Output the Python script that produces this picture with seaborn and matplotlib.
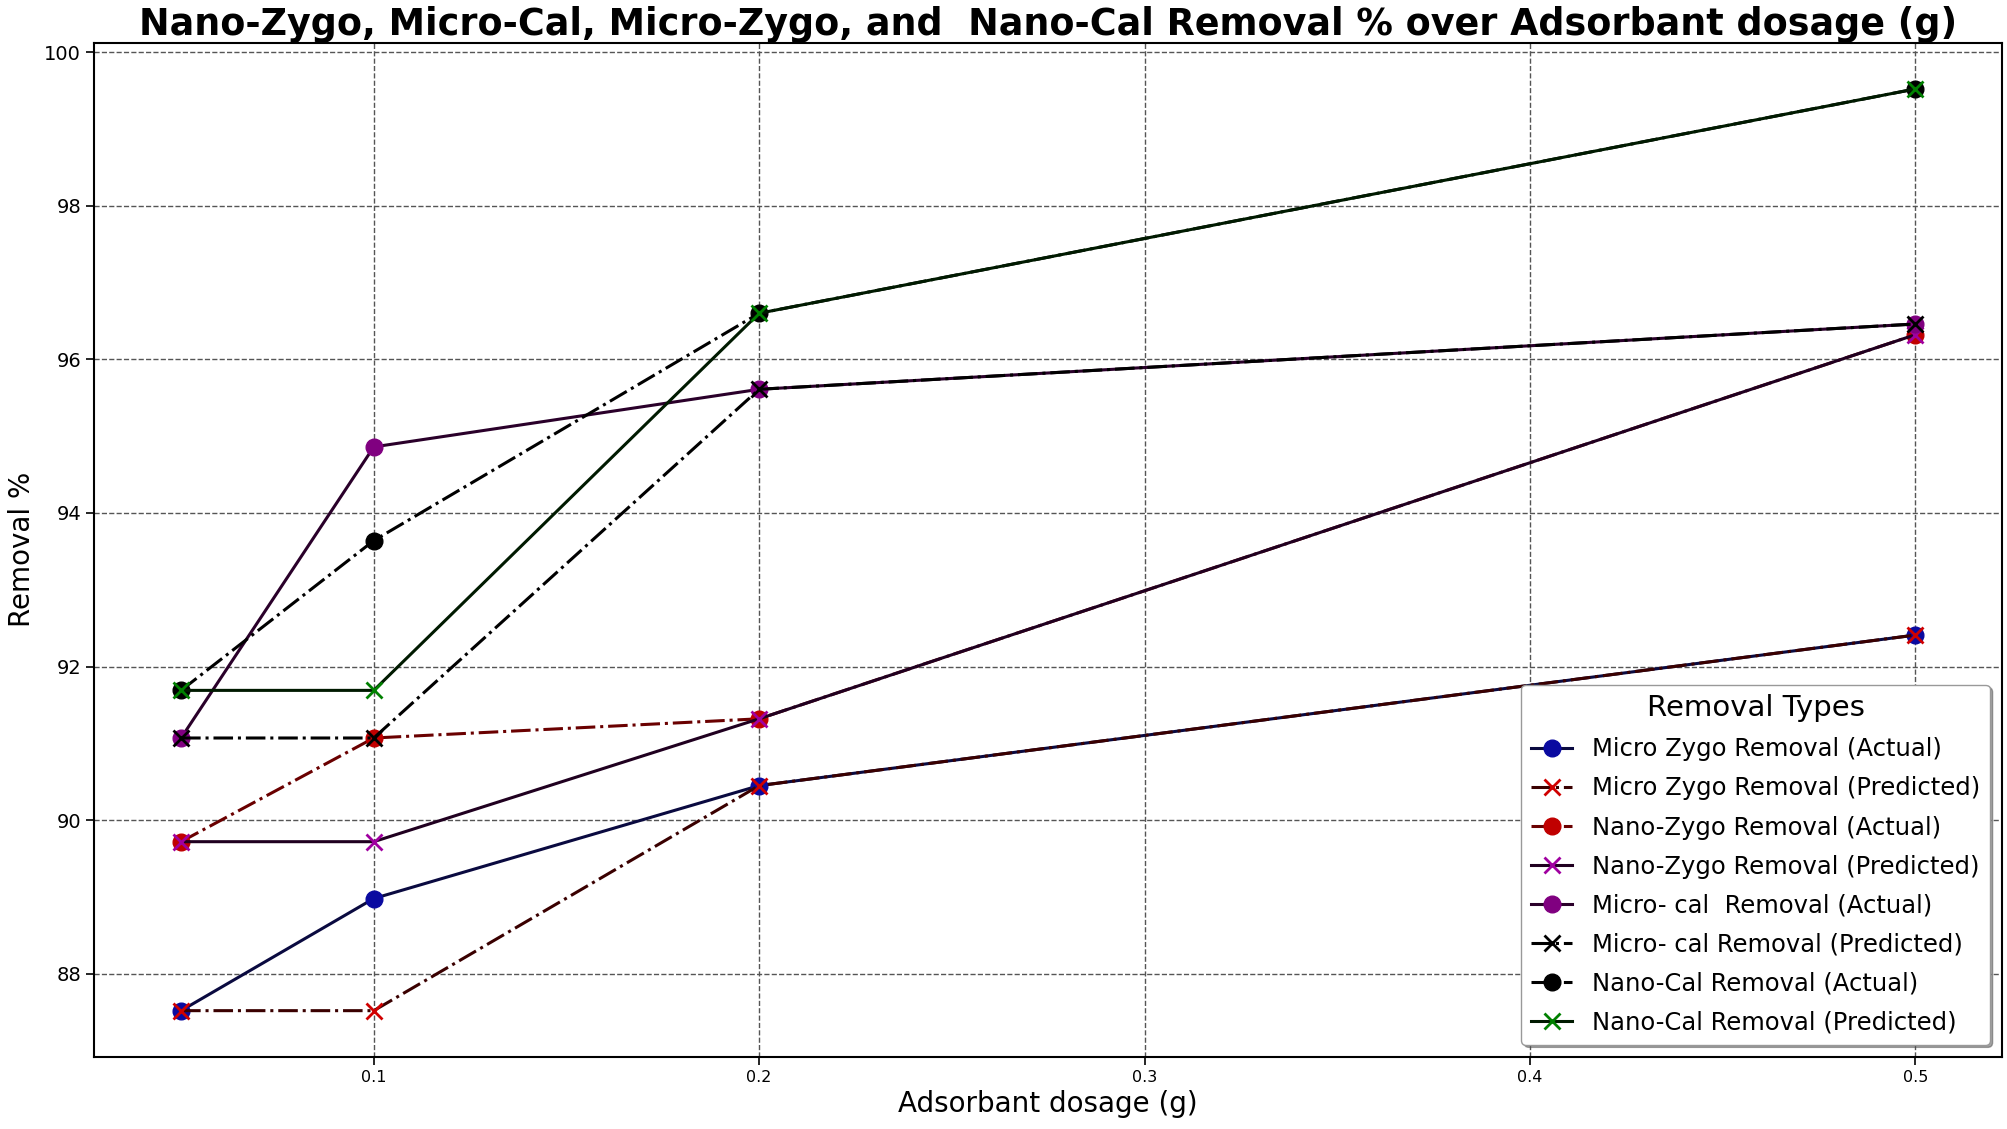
import matplotlib
matplotlib.use('Agg')
import matplotlib.pyplot as plt
import seaborn as sns

# adsorbent dosage (g)
dosage = [0.05, 0.1, 0.2, 0.5]

# removal % for each material
micro_zygo_actual = [87.52, 88.98, 90.45, 92.41]
micro_zygo_pred = [87.52, 87.52, 90.45, 92.41]
nano_zygo_actual = [89.72, 91.07, 91.32, 96.32]
nano_zygo_pred = [89.72, 89.72, 91.32, 96.32]
micro_cal_actual = [91.07, 94.86, 95.61, 96.46]
micro_cal_pred = [91.07, 91.07, 95.61, 96.46]
nano_cal_actual = [91.69, 93.64, 96.60, 99.52]
nano_cal_pred = [91.69, 91.69, 96.60, 99.52]

labels = ['Micro Zygo Removal (Actual)', 'Micro Zygo Removal (Predicted)',
          'Nano-Zygo Removal (Actual)', 'Nano-Zygo Removal (Predicted)',
          'Micro- cal  Removal (Actual)', 'Micro- cal Removal (Predicted)',
          'Nano-Cal Removal (Actual)', 'Nano-Cal Removal (Predicted)']

series = [micro_zygo_actual, micro_zygo_pred, nano_zygo_actual, nano_zygo_pred,
          micro_cal_actual, micro_cal_pred, nano_cal_actual, nano_cal_pred]

# style for each line: marker, line colour, marker colour, linestyle
styles = [('o', '#0a0a40', '#0a0aa0', '-'),
          ('x', '#3a0000', '#d00000', '-.'),
          ('o', '#6a0000', '#c00000', '-.'),
          ('x', '#200020', '#a000a0', '-'),
          ('o', '#2a002a', '#800080', '-'),
          ('x', 'black', 'black', '-.'),
          ('o', 'black', 'black', '-.'),
          ('x', '#001a00', '#008000', '-')]

fig, ax = plt.subplots(figsize=(20.08, 11.29), dpi=100)

for y, lab, (m, lc, mc, ls) in zip(series, labels, styles):
    sns.lineplot(x=dosage, y=y, ax=ax, label=lab, marker=m, color=lc,
                 linestyle=ls, linewidth=2.2, markersize=12,
                 markerfacecolor=mc, markeredgecolor=mc,
                 markeredgewidth=2 if m == 'x' else 1)

ax.set_title('Nano-Zygo, Micro-Cal, Micro-Zygo, and  Nano-Cal Removal % over Adsorbant dosage (g)',
             fontsize=26.3, fontweight='bold', pad=4)
ax.set_xlabel('Adsorbant dosage (g)', fontsize=20)
ax.set_ylabel('Removal %', fontsize=20, labelpad=6)
ax.tick_params(axis='both', width=1.2, length=6)
ax.tick_params(axis='y', labelsize=14)
ax.tick_params(axis='x', labelsize=11.5)
for s in ax.spines.values():
    s.set_linewidth(1.5)
ax.grid(True, linestyle='--', color='#555555', linewidth=1)

leg = ax.legend(title='Removal Types', fontsize=17.5, title_fontsize=21, loc='lower right',
                shadow=True, fancybox=True, framealpha=1, labelspacing=0.62,
                handlelength=1.7)
leg.get_frame().set_edgecolor('0.6')

plt.subplots_adjust(left=0.047, right=0.997, top=0.962, bottom=0.064)
plt.savefig('out.png', dpi=100)
